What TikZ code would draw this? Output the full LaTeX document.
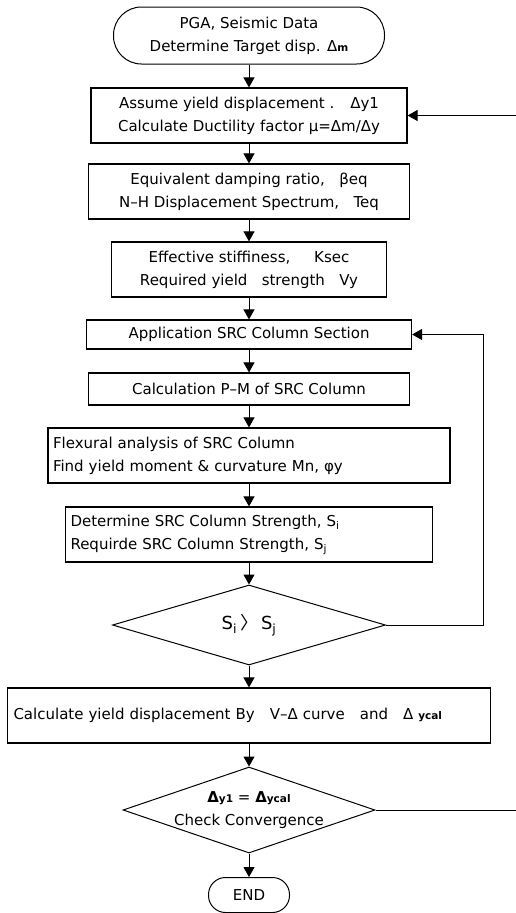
\documentclass[tikz,border=0pt]{standalone}
\usepackage{fontspec}
\setmainfont{DejaVu Sans}
\newfontfamily\cjk{Noto Sans CJK KR}
\usetikzlibrary{arrows.meta, shapes.geometric}
\newcommand{\lowsub}[1]{\textsubscript{#1}}
\newcommand{\smallsub}[1]{{\fontsize{10.5}{12}\selectfont #1}}

\begin{document}
\begin{tikzpicture}[x=1pt, y=-1pt, >={Triangle[length=10pt,width=11pt]},
  every node/.style={font=\fontsize{15}{23}\selectfont},
  procbox/.style={draw, line width=1.2pt, align=center, inner sep=0pt},
  leftbox/.style={draw, line width=1.2pt, align=left, inner sep=0pt},
  termbox/.style={draw, line width=1pt, align=center, inner sep=0pt},
  decide/.style={draw, diamond, line width=1pt, align=center, inner sep=0pt},
  flow/.style={->, line width=1pt}]
  \useasboundingbox (0,0) rectangle (516,913);
  \coordinate (rim) at (516,0);
  \coordinate (loopx) at (483,0);
  % start / end
  \node[termbox, rounded corners=28pt, minimum width=271pt, minimum height=57pt] (start) at (249,35.5)
    {PGA, Seismic Data\\Determine Target disp. Δ\smallsub{\textbf{m}}};
  % main column
  \node[procbox, minimum width=316pt, minimum height=55pt] (assume) at (249,115.5)
    {Assume yield displacement .~~ Δy1\\Calculate Ductility factor μ=Δm/Δy};
  \node[procbox, minimum width=321pt, minimum height=55pt] (damp) at (249,191.5)
    {Equivalent damping ratio,~~ βeq\\N–H Displacement Spectrum,~~ Teq};
  \node[procbox, minimum width=275pt, minimum height=55pt] (stiff) at (249,269.5)
    {Effective stiffiness,~~~~ Ksec\\Required yield~~ strength~~ Vy};
  \node[procbox, minimum width=325pt, minimum height=29pt] (section) at (249,334.5)
    {Application SRC Column Section};
  \node[procbox, minimum width=321pt, minimum height=32pt] (pm) at (249,389)
    {Calculation P–M of SRC Column};
  \node[leftbox, text width=392pt, minimum height=55pt, inner xsep=5pt] (flex) at (249,455.5)
    {Flexural analysis of SRC Column\\Find yield moment \& curvature Mn, φy};
  \node[leftbox, text width=357pt, minimum height=55pt, inner xsep=5pt] (strength) at (249,534.5)
    {Determine SRC Column Strength, S\lowsub{i}\\Requirde SRC Column Strength, S\lowsub{j}};
  \node[decide, minimum width=273pt, minimum height=80pt, shape aspect=3.4, font=\fontsize{18}{20}\selectfont] (check) at (249,625)
    {S\lowsub{i}\,{\cjk 〉}\,S\lowsub{j}};
  \node[leftbox, text width=471pt, minimum height=55pt, inner xsep=6pt] (ycal) at (249,715.5)
    {Calculate yield displacement By~~ V–Δ curve~~ and~~ Δ \smallsub{\textbf{ycal}}};
  \node[decide, minimum width=252pt, minimum height=86pt, shape aspect=2.93, inner xsep=-14pt, inner ysep=-2pt] (conv) at (249,810)
    {\textbf{Δ}\smallsub{\textbf{y1}} = \textbf{Δ}\smallsub{\textbf{ycal}}\\Check Convergence};
  \node[termbox, rounded corners=17pt, minimum width=81pt, minimum height=35pt] (stop) at (249,895) {END};
  % connectors
  \draw[flow] (start) -- (assume);
  \draw[flow] (assume) -- (damp);
  \draw[flow] (damp) -- (stiff);
  \draw[flow] (stiff) -- (section);
  \draw[flow] (section) -- (pm);
  \draw[flow] (pm) -- (flex);
  \draw[flow] (flex) -- (strength);
  \draw[flow] (strength) -- (check);
  \draw[flow] (check) -- (ycal);
  \draw[flow] (ycal) -- (conv);
  \draw[flow] (conv) -- (stop);
  % loops
  \draw[flow] (check.east) -| (loopx |- section.east) -- (section.east);
  \draw[line width=1pt] (conv.east) -- (conv.east -| rim);
  \draw[flow] (rim |- assume.east) -- (assume.east);
\end{tikzpicture}
\end{document}
